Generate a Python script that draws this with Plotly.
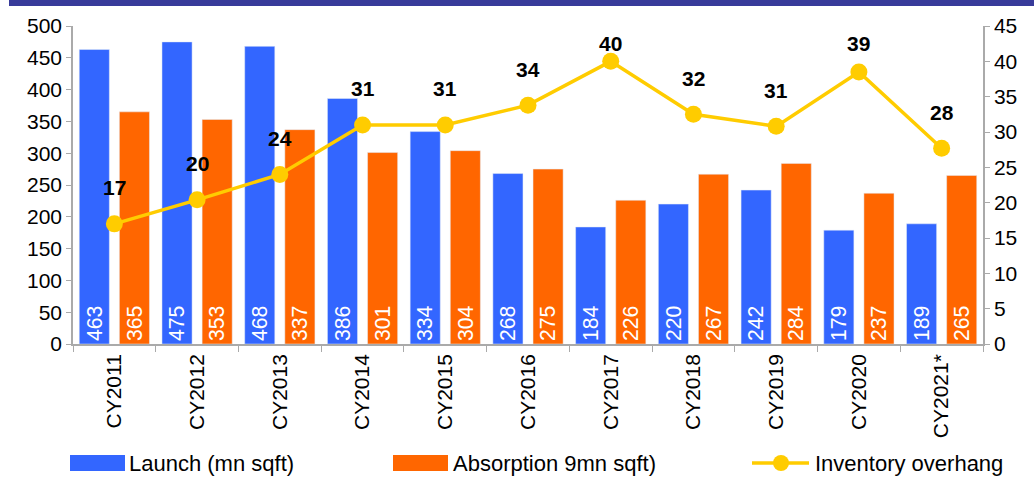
import plotly.graph_objects as go

categories = ["CY2011", "CY2012", "CY2013", "CY2014", "CY2015", "CY2016",
              "CY2017", "CY2018", "CY2019", "CY2020", "CY2021*"]
launch = [463, 475, 468, 386, 334, 268, 184, 220, 242, 179, 189]
absorption = [365, 353, 337, 301, 304, 275, 226, 267, 284, 237, 265]
overhang = [17.0, 20.4, 24.0, 31.0, 31.0, 33.8, 40.0, 32.5, 30.8, 38.5, 27.7]
overhang_labels = ["17", "20", "24", "31", "31", "34", "40", "32", "31", "39", "28"]
series_names = ["Launch (mn sqft)", "Absorption 9mn sqft)", "Inventory overhang"]

BLUE = "#3366FF"
ORANGE = "#FF6600"
YELLOW = "#FFCC00"
FONT = "Liberation Sans, Arial, sans-serif"

W, H = 1034, 479
M_L, M_R, M_T, M_B = 73, 51, 26, 135
PLOT_W = W - M_L - M_R
PLOT_H = H - M_T - M_B


def px_x(p):
    return (p - M_L) / PLOT_W


def px_y(p):
    return (H - M_B - p) / PLOT_H


fig = go.Figure()
fig.add_trace(go.Bar(
    x=categories, y=launch, name=series_names[0], marker_color=BLUE,
    text=[str(v) for v in launch], textposition="inside", textangle=-90,
    insidetextanchor="start", insidetextfont=dict(color="white", size=22, family=FONT),
    hoverinfo="skip"))
fig.add_trace(go.Bar(
    x=categories, y=absorption, name=series_names[1], marker_color=ORANGE,
    text=[str(v) for v in absorption], textposition="inside", textangle=-90,
    insidetextanchor="start", insidetextfont=dict(color="white", size=22, family=FONT),
    hoverinfo="skip"))
fig.add_trace(go.Scatter(
    x=categories, y=overhang, name=series_names[2], mode="lines+markers",
    line=dict(color=YELLOW, width=3.5), marker=dict(color=YELLOW, size=17),
    yaxis="y2", hoverinfo="skip"))

# data labels above the line points (clamped near the top of the plot)
for c, v, t in zip(categories, overhang, overhang_labels):
    p = M_T + (45 - v) / 45 * PLOT_H
    label_p = max(p - 36, M_T + 18)
    fig.add_annotation(x=c, y=v, yref="y2", text=f"<b>{t}</b>", showarrow=False,
                       yshift=p - label_p, font=dict(size=21, color="black", family=FONT))

# header band (cropped title bar)
fig.add_shape(type="rect", xref="paper", yref="paper", x0=px_x(9), x1=px_x(W),
              y0=px_y(6), y1=px_y(-1), fillcolor="#383B9A", line_width=0, layer="above")

# legend drawn below the axis
LEG_Y = 463
leg_font = dict(size=22, color="black", family=FONT)
fig.add_shape(type="rect", xref="paper", yref="paper", x0=px_x(70), x1=px_x(125),
              y0=px_y(471), y1=px_y(455), fillcolor=BLUE, line_width=0)
fig.add_annotation(xref="paper", yref="paper", x=px_x(127), y=px_y(LEG_Y), text=series_names[0],
                   showarrow=False, xanchor="left", yanchor="middle", font=leg_font)
fig.add_shape(type="rect", xref="paper", yref="paper", x0=px_x(393), x1=px_x(448),
              y0=px_y(471), y1=px_y(455), fillcolor=ORANGE, line_width=0)
fig.add_annotation(xref="paper", yref="paper", x=px_x(451), y=px_y(LEG_Y), text=series_names[1],
                   showarrow=False, xanchor="left", yanchor="middle", font=leg_font)
fig.add_shape(type="line", xref="paper", yref="paper", x0=px_x(752), x1=px_x(809),
              y0=px_y(LEG_Y), y1=px_y(LEG_Y), line=dict(color=YELLOW, width=3.5))
fig.add_shape(type="circle", xref="paper", yref="paper", xsizemode="pixel", ysizemode="pixel",
              xanchor=px_x(781), yanchor=px_y(LEG_Y), x0=-8, x1=8, y0=-8, y1=8,
              fillcolor=YELLOW, line_width=0)
fig.add_annotation(xref="paper", yref="paper", x=px_x(813), y=px_y(LEG_Y), text=series_names[2],
                   showarrow=False, xanchor="left", yanchor="middle", font=leg_font)

axis_common = dict(showgrid=False, zeroline=False, showline=True, linecolor="#AAAAAA",
                   linewidth=1.5, ticks="outside", ticklen=5, tickcolor="#AAAAAA",
                   tickfont=dict(size=21, color="black", family=FONT), automargin=False)

fig.update_layout(
    width=W, height=H, margin=dict(l=M_L, r=M_R, t=M_T, b=M_B, autoexpand=False),
    paper_bgcolor="white", plot_bgcolor="white",
    barmode="group", bargap=0.03, bargroupgap=0.25,
    font=dict(family=FONT, color="black"),
    xaxis=dict(axis_common, tickangle=-90, tickson="boundaries", ticklen=6,
               range=[-0.5, len(categories) - 0.5],
               tickfont=dict(size=21, color="black", family=FONT)),
    yaxis=dict(axis_common, range=[0, 500], dtick=50),
    yaxis2=dict(axis_common, range=[0, 45], dtick=5, overlaying="y", side="right"),
    showlegend=False,
)

fig.write_html("out.html")
